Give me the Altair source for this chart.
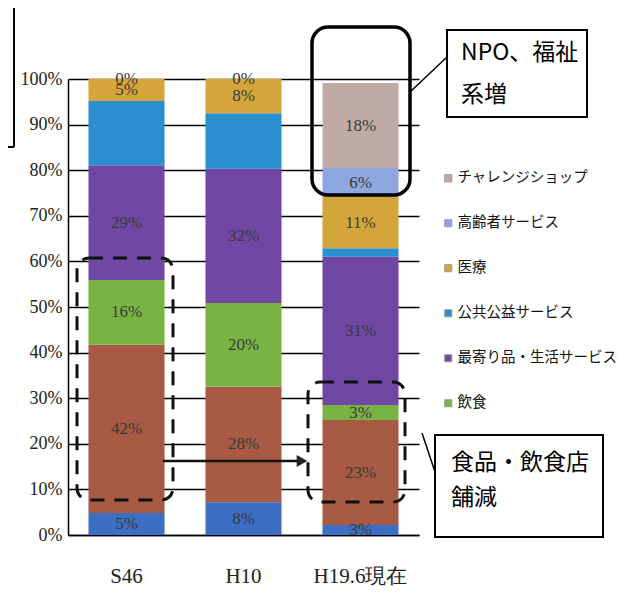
import altair as alt
import pandas as pd

periods = ["S46", "H10", "H19.6現在"]
categories = ["買回り品", "食品", "飲食", "最寄り品・生活サービス",
              "公共公益サービス", "医療", "高齢者サービス", "チャレンジショップ"]
colors = ["#3c6fc4", "#a85a45", "#78b444", "#7048a4",
          "#2a8fcf", "#d3a53a", "#8ea6e0", "#bfaaa6"]

vals_s46 = [4.8, 36.9, 14.2, 25.2, 14.1, 4.8, 0, 0]
vals_h10 = [7.2, 25.3, 18.4, 29.4, 12.2, 7.5, 0, 0]
vals_h19 = [2.2, 23.0, 3.3, 32.5, 1.9, 11.2, 6.4, 18.6]

# the two zero-height segments share one visible "0%" label
labels_s46 = ["5%", "42%", "16%", "29%", "", "5%", "", "0%"]
labels_h10 = ["8%", "28%", "20%", "32%", "", "8%", "", "0%"]
labels_h19 = ["3%", "23%", "3%", "31%", "", "11%", "6%", "18%"]

legend_items = ["チャレンジショップ", "高齢者サービス", "医療",
                "公共公益サービス", "最寄り品・生活サービス", "飲食"]

y_ticks = [0, 10, 20, 30, 40, 50, 60, 70, 80, 90, 100]

rows = []
for p, vals, labs in zip(periods, [vals_s46, vals_h10, vals_h19],
                         [labels_s46, labels_h10, labels_h19]):
    for i, (c, v, l) in enumerate(zip(categories, vals, labs)):
        rows.append({"period": p, "category": c, "value": v, "label": l, "order": i})
df = pd.DataFrame(rows)

xenc = alt.X("period:N", sort=periods,
             scale=alt.Scale(paddingInner=0.35, paddingOuter=0.175),
             axis=alt.Axis(title=None, labelAngle=0, ticks=False, domain=True,
                           domainColor="black", domainWidth=1.5, labelPadding=30,
                           labelFont="Liberation Serif", labelFontSize=21,
                           labelColor="#222", grid=False))

yscale = alt.Scale(domain=[0, 100], nice=False)

base = alt.Chart(df).transform_stack(
    stack="value", groupby=["period"],
    sort=[alt.SortField("order", order="ascending")],
    as_=["y0", "y1"]
).transform_calculate(mid="(datum.y0 + datum.y1) / 2")

bars = base.mark_bar().encode(
    x=xenc,
    y=alt.Y("y1:Q", scale=yscale,
            axis=alt.Axis(title=None, values=y_ticks, labelExpr="datum.value + '%'",
                          grid=True, gridColor="black", gridWidth=1.4,
                          domain=True, domainColor="black", domainWidth=1.5,
                          ticks=False, labelFont="Liberation Serif",
                          labelFontSize=18, labelColor="#222", labelPadding=6)),
    y2="y0:Q",
    color=alt.Color("category:N",
                    scale=alt.Scale(domain=categories, range=colors),
                    legend=alt.Legend(orient="none", legendX=373, legendY=92,
                                      title=None, values=legend_items,
                                      symbolType="square", symbolSize=50,
                                      symbolStrokeColor="#999", symbolStrokeWidth=1,
                                      labelFont="Noto Sans CJK JP", labelFontSize=14.5,
                                      labelColor="#111", rowPadding=30, labelOffset=2,
                                      labelLimit=300)),
)

texts = base.transform_filter("datum.label != ''").mark_text(
    font="Liberation Serif", fontSize=17, color="#3a3a3a", baseline="middle"
).encode(x=xenc, y=alt.Y("mid:Q", scale=yscale), text="label:N")

one = pd.DataFrame({"a": [0]})
ann = alt.Chart(one)

# rounded solid frame around the top of H19.6
frame = ann.mark_rect(fill="transparent", stroke="black", strokeWidth=3.5,
                      cornerRadius=16).encode(
    x=alt.value(244), x2=alt.value(342), y=alt.value(-52), y2=alt.value(116))

# NPO callout box
npo_box = ann.mark_rect(fill="white", stroke="black", strokeWidth=2).encode(
    x=alt.value(379), x2=alt.value(519), y=alt.value(-49), y2=alt.value(38))
npo_line = ann.mark_rule(color="black", strokeWidth=1.5).encode(
    x=alt.value(379), x2=alt.value(342), y=alt.value(-22), y2=alt.value(13))
npo_t1 = ann.mark_text(text="NPO、福祉", font="Noto Sans CJK JP", fontSize=23,
                       align="left", baseline="middle", color="black").encode(
    x=alt.value(393), y=alt.value(-26))
npo_t2 = ann.mark_text(text="系増", font="Noto Sans CJK JP", fontSize=23,
                       align="left", baseline="middle", color="black").encode(
    x=alt.value(393), y=alt.value(16))

# dashed frames
dash1 = ann.mark_rect(fill="transparent", stroke="#111", strokeWidth=3,
                      strokeDash=[14, 10], cornerRadius=12).encode(
    x=alt.value(9), x2=alt.value(105), y=alt.value(179), y2=alt.value(421))
dash2 = ann.mark_rect(fill="transparent", stroke="#111", strokeWidth=3,
                      strokeDash=[14, 10], cornerRadius=12).encode(
    x=alt.value(240), x2=alt.value(337), y=alt.value(303), y2=alt.value(423))

# arrow
arrow_line = ann.mark_rule(color="#111", strokeWidth=2.5).encode(
    x=alt.value(95), x2=alt.value(230), y=alt.value(382))
arrow_head = ann.mark_point(shape="triangle-right", filled=True, color="#222",
                            size=150, opacity=1).encode(
    x=alt.value(234), y=alt.value(382))

# food callout box
food_box = ann.mark_rect(fill="white", stroke="black", strokeWidth=2).encode(
    x=alt.value(367), x2=alt.value(535), y=alt.value(356), y2=alt.value(458))
food_line = ann.mark_rule(color="black", strokeWidth=1.5).encode(
    x=alt.value(354), x2=alt.value(367), y=alt.value(354), y2=alt.value(393))
food_t1 = ann.mark_text(text="食品・飲食店", font="Noto Sans CJK JP", fontSize=23,
                        align="left", baseline="middle", color="black").encode(
    x=alt.value(383), y=alt.value(384))
food_t2 = ann.mark_text(text="舗減", font="Noto Sans CJK JP", fontSize=23,
                        align="left", baseline="middle", color="black").encode(
    x=alt.value(383), y=alt.value(419))

# clipped box corner at the top-left
corner_v = ann.mark_rule(color="black", strokeWidth=2).encode(
    x=alt.value(-54), y=alt.value(-79), y2=alt.value(68))
corner_h = ann.mark_rule(color="black", strokeWidth=2).encode(
    x=alt.value(-68), x2=alt.value(-54), y=alt.value(68))

chart = alt.layer(
    bars, texts, frame, npo_line, npo_box, npo_t1, npo_t2,
    dash1, dash2, arrow_line, arrow_head,
    food_line, food_box, food_t1, food_t2, corner_v, corner_h
).properties(
    width=351, height=456,
    autosize=alt.AutoSizeParams(type="none"),
    padding={"left": 60, "top": 71, "right": 197, "bottom": 55},
    background="white",
).configure_view(stroke=None)

chart.save("out.html", embed_options={"renderer": "svg", "actions": False})
